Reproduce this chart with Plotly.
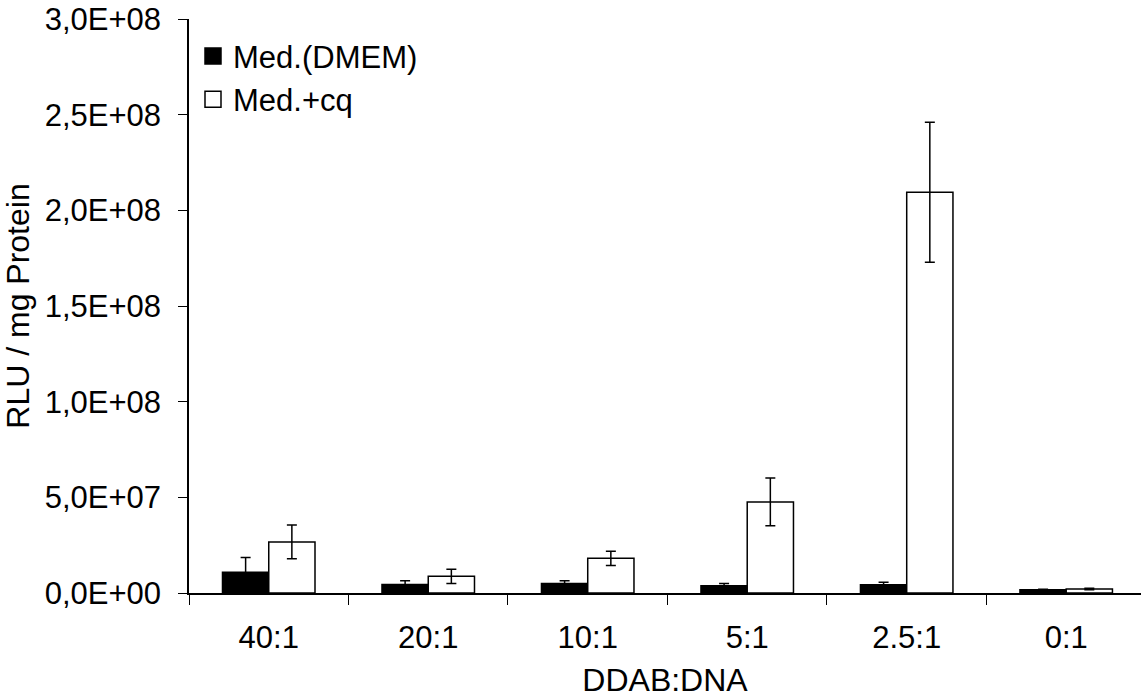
import plotly.graph_objects as go

# DDAB:DNA charge ratios
categories = ["40:1", "20:1", "10:1", "5:1", "2.5:1", "0:1"]

# Luciferase activity (RLU / mg protein) and standard deviations
dmem_values = [1.08e7, 4.5e6, 4.9e6, 3.8e6, 4.3e6, 1.7e6]
dmem_errors = [0.77e7, 1.9e6, 1.5e6, 1.1e6, 1.3e6, 0.3e6]
cq_values = [2.67e7, 8.7e6, 1.81e7, 4.76e7, 2.095e8, 2.1e6]
cq_errors = [0.88e7, 3.7e6, 0.37e7, 1.25e7, 0.366e8, 0.4e6]

series_names = ["Med.(DMEM)", "Med.+cq"]

y_tickvals = [0, 5e7, 1e8, 1.5e8, 2e8, 2.5e8, 3e8]
y_ticktext = ["0,0E+00", "5,0E+07", "1,0E+08", "1,5E+08", "2,0E+08", "2,5E+08", "3,0E+08"]

FONT = "Liberation Sans, Arial, sans-serif"

fig = go.Figure()

err_style = dict(type="data", visible=True, color="black", thickness=1.5, width=5)

fig.add_trace(go.Bar(
    x=categories, y=dmem_values, name=series_names[0],
    marker=dict(color="black", line=dict(color="black", width=1.5)),
    error_y=dict(array=dmem_errors, **err_style),
    showlegend=False,
))
fig.add_trace(go.Bar(
    x=categories, y=cq_values, name=series_names[1],
    marker=dict(color="white", line=dict(color="black", width=1.5)),
    error_y=dict(array=cq_errors, **err_style),
    showlegend=False,
))

# legend entries with larger square swatches
fig.add_trace(go.Scatter(
    x=[None], y=[None], mode="markers", name=series_names[0],
    marker=dict(symbol="square", size=16, color="black", line=dict(color="black", width=1.5)),
))
fig.add_trace(go.Scatter(
    x=[None], y=[None], mode="markers", name=series_names[1],
    marker=dict(symbol="square", size=16, color="white", line=dict(color="black", width=1.5)),
))

fig.update_layout(
    width=1141, height=698,
    margin=dict(l=189, r=0, t=19, b=105),
    paper_bgcolor="white", plot_bgcolor="white",
    font=dict(family=FONT, size=31, color="black"),
    barmode="group", bargap=0.42, bargroupgap=0,
    legend=dict(
        x=0.0042, y=0.982, xanchor="left", yanchor="top",
        bgcolor="rgba(0,0,0,0)", font=dict(size=31),
        itemsizing="trace", tracegroupgap=0,
    ),
)

fig.update_xaxes(
    type="category", range=[-0.5, 5.469],
    showline=True, linecolor="black", linewidth=1.5,
    ticks="outside", tickson="boundaries", ticklen=10, tickcolor="black", tickwidth=1,
    showgrid=False, zeroline=False,
    ticklabelstandoff=16,
    title=dict(text="DDAB:DNA", font=dict(size=32), standoff=18),
)

fig.update_yaxes(
    range=[0, 3e8],
    tickvals=y_tickvals, ticktext=y_ticktext,
    showline=True, linecolor="black", linewidth=1.5,
    ticks="outside", ticklen=9, tickcolor="black", tickwidth=1,
    showgrid=False, zeroline=False,
    ticklabelstandoff=11,
    title=dict(text="RLU / mg Protein", font=dict(size=32), standoff=8),
)

fig.write_html("out.html")
